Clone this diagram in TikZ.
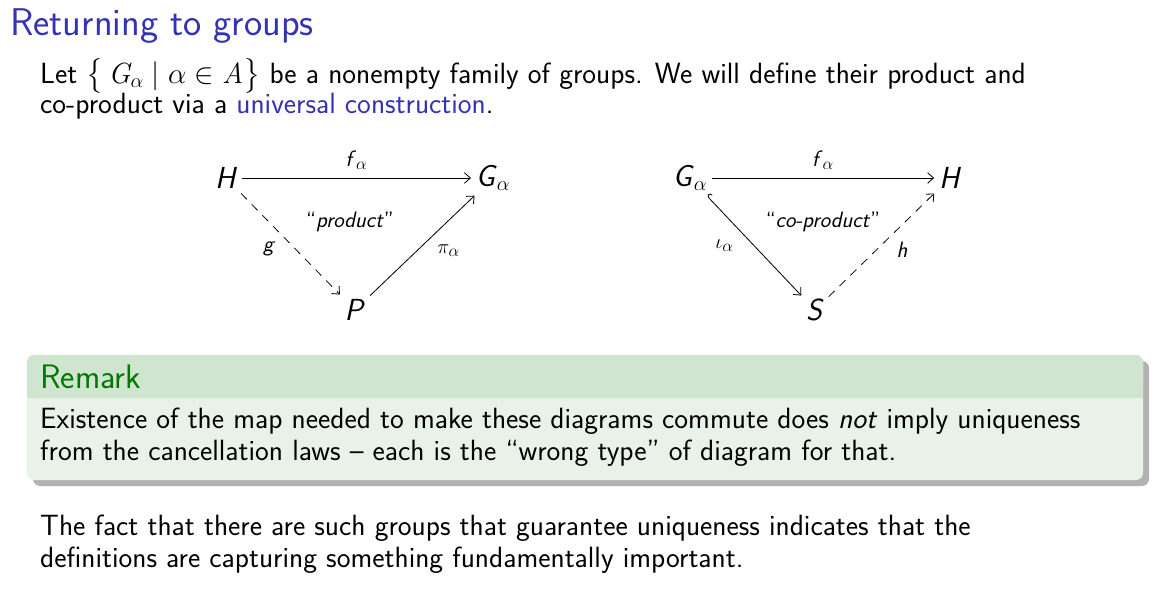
\documentclass[tikz,border=0pt]{standalone}
\usepackage{amsmath,amssymb}
\usetikzlibrary{arrows.meta,shadows}
\definecolor{titleblue}{RGB}{51,51,179}
\definecolor{remgreen}{RGB}{0,120,0}
\definecolor{remhead}{RGB}{207,229,207}
\definecolor{rembody}{RGB}{232,242,232}
\begin{document}
\begin{tikzpicture}[x=0.03cm,y=-0.03cm,
  txt/.style={anchor=west,inner sep=0pt,font=\sffamily\fontsize{25}{30}\selectfont},
  obj/.style={font=\sffamily\fontsize{26}{30}\selectfont,inner sep=4pt},
  lab/.style={font=\sffamily\fontsize{19}{22}\selectfont,inner sep=1pt},
  arr/.style={-{Straight Barb[length=5pt,width=9pt]},line width=0.7pt},
  dsh/.style={arr,dash pattern=on 7pt off 6pt}]
\useasboundingbox (0,0) rectangle (1168,594);
\node[anchor=west,inner sep=0pt,text=titleblue,font=\sffamily\fontsize{33}{38}\selectfont] (title) at (10,26) {Returning to groups};
\node[txt] (l1) at (40,76) {Let $\bigl\{\,\mathit{G}_\alpha \mid \alpha\in \mathit{A}\bigr\}$ be a nonempty family of groups. We will define their product and};
\node[txt] (l2) at (40,106) {co-product via a \textcolor{titleblue}{universal construction}.};
% left diagram
\node[obj] (H) at (226,178) {\textit{H}};
\node[obj] (G) at (493,178) {\textit{G}$_\alpha$};
\node[obj] (P) at (355,310) {\textit{P}};
\draw[arr] (H) -- node[lab,above=6pt]{\textit{f}$_\alpha$} (G);
\draw[dsh] (H) -- node[lab,left=16pt,pos=0.55]{\textit{g}} (P);
\draw[arr] (P) -- node[lab,right=16pt,pos=0.45]{$\pi_\alpha$} (G);
\node[lab] (pr) at (350,222) {``\textit{product}''};
% right diagram
\node[obj] (G2) at (690,178) {\textit{G}$_\alpha$};
\node[obj] (H2) at (950,178) {\textit{H}};
\node[obj] (S) at (815,310) {\textit{S}};
\draw[arr] (G2) -- node[lab,above=6pt]{\textit{f}$_\alpha$} (H2);
\draw[arr,{Hooks[right,length=3pt,width=8pt]}-{Straight Barb[length=5pt,width=9pt]}] (G2) -- node[lab,left=16pt,pos=0.5]{$\iota_\alpha$} (S);
\draw[dsh] (S) -- node[lab,right=16pt,pos=0.45]{\textit{h}} (H2);
\node[lab] (cpr) at (823,222) {``\textit{co-product}''};
% remark block
\fill[gray!60,rounded corners=6pt] (33,361) rectangle (1149,486);
\fill[rembody,rounded corners=6pt] (27,355) rectangle (1143,480);
\fill[remhead,rounded corners=6pt] (27,355) rectangle (1143,398);
\fill[remhead] (27,385) rectangle (1143,398);
\node[anchor=west,inner sep=0pt,text=remgreen,font=\sffamily\fontsize{29}{34}\selectfont] (rem) at (40,377) {Remark};
\node[txt] (r1) at (40,421) {Existence of the map needed to make these diagrams commute does \textit{not} imply uniqueness};
\node[txt] (r2) at (40,453) {from the cancellation laws -- each is the ``wrong type'' of diagram for that.};
\node[txt] (f1) at (40,528) {The fact that there are such groups that guarantee uniqueness indicates that the};
\node[txt] (f2) at (40,560) {definitions are capturing something fundamentally important.};
\end{tikzpicture}
\end{document}
